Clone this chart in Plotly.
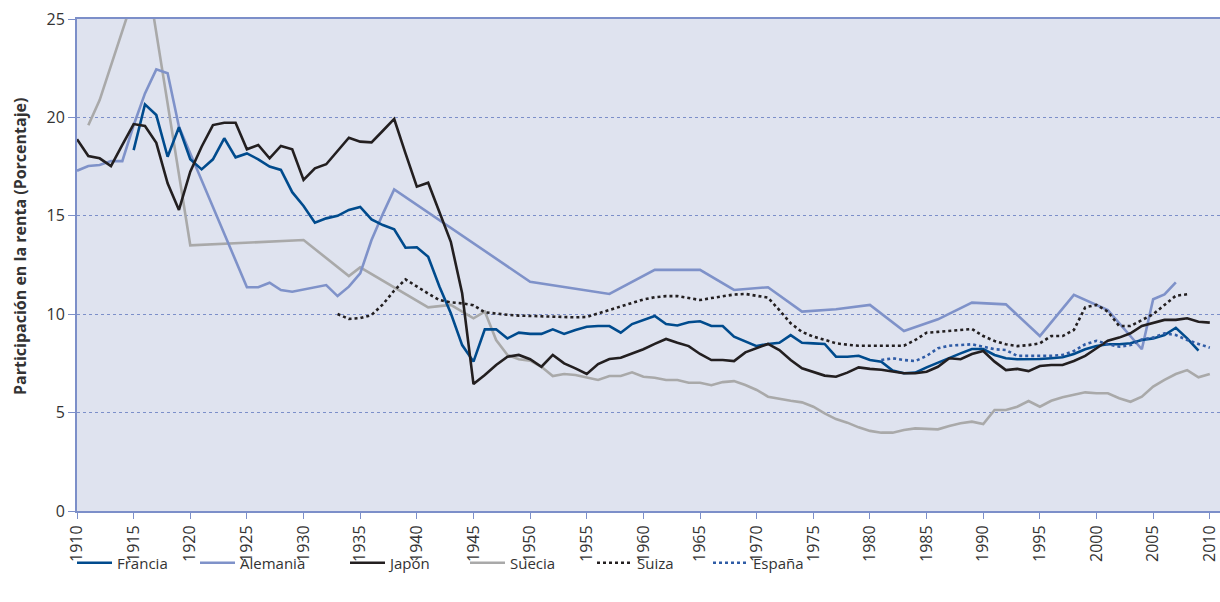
import plotly.graph_objects as go

# ---------------- data ----------------
francia_years = list(range(1915, 2010))
francia_vals = [18.34, 20.66, 20.12, 18.0, 19.5, 17.87, 17.36, 17.87, 18.94, 17.97,
                18.17, 17.87, 17.5, 17.33, 16.2, 15.5, 14.65, 14.87, 15.0, 15.3,
                15.45, 14.82, 14.53, 14.31, 13.38, 13.4, 12.92, 11.4, 10.05, 8.43,
                7.59, 9.23, 9.23, 8.77, 9.06, 9.0, 9.0, 9.23, 9.0, 9.2,
                9.36, 9.4, 9.4, 9.06, 9.5, 9.7, 9.91, 9.5, 9.43, 9.59,
                9.64, 9.4, 9.4, 8.86, 8.6, 8.38, 8.49, 8.55, 8.94, 8.55,
                8.52, 8.49, 7.84, 7.84, 7.89, 7.67, 7.59, 7.14, 7.0, 7.03,
                7.3, 7.54, 7.81, 8.01, 8.23, 8.23, 7.93, 7.76, 7.71, 7.71,
                7.72, 7.76, 7.81, 7.98, 8.22, 8.38, 8.47, 8.47, 8.52, 8.69,
                8.77, 8.94, 9.31, 8.77, 8.15]

alemania_years = [1910, 1911, 1912, 1913, 1914, 1915, 1916, 1917, 1918, 1919,
                  1925, 1926, 1927, 1928, 1929, 1932, 1933, 1934, 1935, 1936,
                  1937, 1938, 1950, 1957, 1961, 1965, 1968, 1971, 1974, 1977,
                  1980, 1983, 1986, 1989, 1992, 1995, 1998, 2001, 2004, 2005,
                  2006, 2007]
alemania_vals = [17.29, 17.53, 17.58, 17.78, 17.78, 19.6, 21.22, 22.44, 22.24, 19.53,
                 11.37, 11.37, 11.6, 11.23, 11.14, 11.48, 10.92, 11.4, 12.07, 13.77,
                 15.1, 16.34, 11.65, 11.03, 12.25, 12.25, 11.23, 11.37, 10.13, 10.25,
                 10.47, 9.15, 9.74, 10.59, 10.5, 8.89, 10.98, 10.21, 8.22, 10.76,
                 11.01, 11.62]

japon_years = list(range(1910, 2011))
japon_vals = [18.89, 18.04, 17.92, 17.53, 18.6, 19.66, 19.56, 18.71, 16.65, 15.3,
              17.24, 18.51, 19.61, 19.73, 19.73, 18.38, 18.6, 17.92, 18.55, 18.38,
              16.82, 17.41, 17.62, 18.3, 18.97, 18.77, 18.73, 19.32, 19.92, 18.17,
              16.48, 16.68, 15.21, 13.68, 11.06, 6.45, 6.91, 7.42, 7.84, 7.93,
              7.71, 7.33, 7.93, 7.5, 7.25, 6.96, 7.47, 7.72, 7.79, 8.01,
              8.22, 8.49, 8.74, 8.55, 8.38, 7.98, 7.67, 7.67, 7.62, 8.06,
              8.27, 8.49, 8.18, 7.67, 7.25, 7.08, 6.88, 6.82, 7.03, 7.3,
              7.22, 7.18, 7.08, 7.0, 7.0, 7.08, 7.33, 7.76, 7.71, 7.98,
              8.13, 7.59, 7.16, 7.22, 7.11, 7.37, 7.42, 7.42, 7.62, 7.88,
              8.27, 8.65, 8.81, 9.03, 9.4, 9.54, 9.71, 9.71, 9.79, 9.62, 9.57]

suecia_years = [1911, 1912, 1916, 1920, 1930, 1934, 1935, 1941, 1943, 1945, 1946] + list(range(1947, 2011))
suecia_vals = [19.6, 20.88, 27.9, 13.5, 13.77, 11.94, 12.38, 10.35, 10.47, 9.79, 10.13,
               8.69, 7.93, 7.71, 7.64, 7.33, 6.86, 6.96, 6.91, 6.77, 6.66,
               6.86, 6.86, 7.05, 6.82, 6.77, 6.66, 6.66, 6.52, 6.52, 6.39,
               6.55, 6.6, 6.4, 6.15, 5.81, 5.69, 5.6, 5.52, 5.3, 4.96,
               4.67, 4.49, 4.25, 4.07, 3.98, 3.98, 4.12, 4.2, 4.17, 4.15,
               4.32, 4.46, 4.54, 4.42, 5.13, 5.13, 5.3, 5.59, 5.3, 5.6,
               5.78, 5.89, 6.03, 5.98, 5.98, 5.73, 5.55, 5.81, 6.32, 6.66,
               6.96, 7.16, 6.79, 6.96]

suiza_years = list(range(1933, 2009))
suiza_vals = [10.01, 9.76, 9.8, 9.96, 10.5, 11.2, 11.77, 11.4, 11.05, 10.72,
              10.6, 10.55, 10.45, 10.1, 10.02, 9.97, 9.93, 9.91, 9.9, 9.88,
              9.85, 9.84, 9.86, 10.04, 10.21, 10.4, 10.6, 10.75, 10.86, 10.92,
              10.92, 10.82, 10.72, 10.82, 10.92, 11.0, 11.03, 10.95, 10.84, 10.21,
              9.54, 9.1, 8.86, 8.7, 8.52, 8.45, 8.4, 8.4, 8.4, 8.4,
              8.4, 8.69, 9.06, 9.1, 9.15, 9.2, 9.25, 8.89, 8.64, 8.47,
              8.38, 8.43, 8.52, 8.89, 8.89, 9.2, 10.35, 10.47, 10.13, 9.4,
              9.4, 9.7, 10.0, 10.47, 10.94, 11.01]

espana_years = list(range(1981, 2011))
espana_vals = [7.67, 7.76, 7.67, 7.62, 7.88, 8.27, 8.4, 8.43, 8.47, 8.35,
               8.22, 8.18, 7.88, 7.88, 7.88, 7.88, 7.93, 8.13, 8.47, 8.65,
               8.47, 8.35, 8.43, 8.72, 8.81, 9.03, 8.94, 8.69, 8.49, 8.3]

x_ticks = list(range(1910, 2011, 5))
y_ticks = [0, 5, 10, 15, 20, 25]

# ---------------- styling ----------------
W, H = 1220, 602
L, R, T, B = 77, 0, 19, 91
PW, PH = W - L - R, H - T - B
AXIS = "#7c8fc9"
TXT = "#333333"
FONT = "Open Sans"

series = [
    ("Francia", francia_years, francia_vals, "#004b8d", "solid"),
    ("Alemania", alemania_years, alemania_vals, "#7f92c9", "solid"),
    ("Japón", japon_years, japon_vals, "#231f20", "solid"),
    ("Suecia", suecia_years, suecia_vals, "#a9a9a9", "solid"),
    ("Suiza", suiza_years, suiza_vals, "#231f20", "dot"),
    ("España", espana_years, espana_vals, "#2f5ca6", "dot"),
]
legend_px = [77, 200, 350, 470, 597, 713]

fig = go.Figure()
order = [3, 1, 0, 2, 4, 5]  # draw order (gray underneath)
for i in order:
    name, xs, ys, col, dash = series[i]
    lg = "legend" if i == 0 else f"legend{i+1}"
    fig.add_trace(go.Scatter(
        x=xs, y=ys, name=name, mode="lines",
        line=dict(color=col, width=2.6, dash=dash),
        legend=lg, showlegend=True, hoverinfo="skip"))

layout_legends = {}
for i, px in enumerate(legend_px):
    key = "legend" if i == 0 else f"legend{i+1}"
    layout_legends[key] = dict(
        x=(px - L - 5) / PW, y=(T + PH - 563) / PH,
        xanchor="left", yanchor="middle", orientation="h",
        bgcolor="rgba(0,0,0,0)", borderwidth=0,
        font=dict(family=FONT, size=15, color=TXT),
        itemwidth=35)

fig.update_layout(
    width=W, height=H,
    margin=dict(l=L, r=R, t=T, b=B),
    paper_bgcolor="white",
    plot_bgcolor="#dfe3ef",
    font=dict(family=FONT, size=16, color=TXT),
    xaxis=dict(
        range=[1910, 2010.9], tickmode="array", tickvals=x_ticks,
        ticktext=[str(v) for v in x_ticks], tickangle=-90,
        ticks="outside", ticklen=6, tickcolor=AXIS, tickwidth=1,
        showline=True, linecolor=AXIS, linewidth=2, mirror=True,
        showgrid=False, zeroline=False,
        tickfont=dict(family=FONT, size=16, color=TXT)),
    yaxis=dict(
        range=[0, 25], tickmode="array", tickvals=y_ticks,
        ticks="outside", ticklen=7, tickcolor=AXIS, tickwidth=1,
        showline=True, linecolor=AXIS, linewidth=2,
        showgrid=True, gridcolor=AXIS, gridwidth=1, griddash="dot",
        zeroline=False,
        tickfont=dict(family=FONT, size=16, color=TXT)),
    annotations=[dict(
        text="<b>Participación en la renta (Porcentaje)</b>",
        xref="paper", yref="paper",
        x=(20 - L) / PW, y=(T + PH - 247) / PH,
        xanchor="center", yanchor="middle", textangle=-90,
        showarrow=False, font=dict(family=FONT, size=16, color=TXT))],
    **layout_legends,
)

fig.write_html("out.html",
               config={"displayModeBar": False},
               post_script="document.body.style.margin='0px';document.body.style.overflow='hidden';")
